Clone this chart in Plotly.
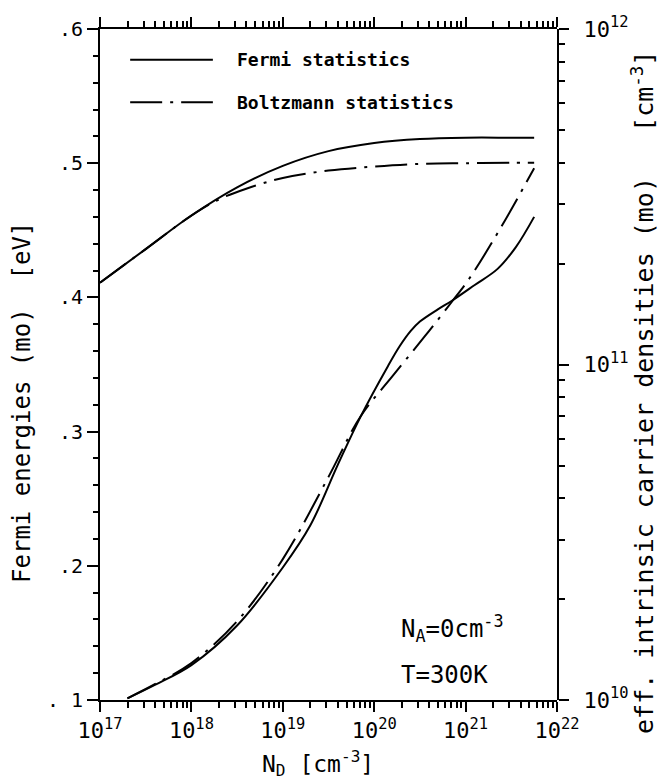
import numpy as np
import plotly.graph_objects as go

# ---------------- data ----------------
# Fermi energies (left axis, eV) vs log10(N_D)
logN_fermi_E = [17.0, 17.5, 18.0, 18.5, 19.0, 19.5, 20.0, 20.5, 21.0, 21.5, 21.75]
E_fermi = [0.411, 0.436, 0.461, 0.482, 0.498, 0.509, 0.515, 0.518, 0.519, 0.519, 0.519]

logN_boltz_E = [17.0, 17.5, 18.0, 18.3, 18.6, 19.0, 19.5, 20.0, 20.5, 21.0, 21.5, 21.75]
E_boltz = [0.411, 0.436, 0.461, 0.473, 0.481, 0.489, 0.4945, 0.4975, 0.4995, 0.5, 0.5003, 0.5004]

# effective intrinsic carrier densities (right axis, log10 cm^-3) vs log10(N_D)
logN_fermi_n = [17.3, 17.6, 18.0, 18.5, 19.0, 19.3, 19.6, 19.85, 20.15, 20.28, 20.4, 20.5, 20.7, 20.85, 21.1, 21.35, 21.55, 21.75]
log_n_fermi = [10.005, 10.045, 10.104, 10.222, 10.395, 10.52, 10.70, 10.844, 10.995, 11.055, 11.10, 11.128, 11.165, 11.19, 11.237, 11.285, 11.35, 11.44]

logN_boltz_n = [17.3, 17.6, 18.0, 18.5, 19.0, 19.5, 19.85, 20.2, 20.55, 20.85, 21.05, 21.4, 21.75]
log_n_boltz = [10.005, 10.047, 10.11, 10.235, 10.42, 10.665, 10.845, 10.965, 11.083, 11.187, 11.26, 11.415, 11.585]

x_tick_exps = [17, 18, 19, 20, 21, 22]
yl_tickvals = [0.1, 0.2, 0.3, 0.4, 0.5, 0.6]
yl_ticktext = [". 1", ".2", ".3", ".4", ".5", ".6"]
yr_tick_exps = [10, 11, 12]

legend_labels = ["Fermi statistics", "Boltzmann statistics"]

# ---------------- figure ----------------
MONO = "DejaVu Sans Mono"
BLACK = "black"
DASHDOT = "32px,8px,3px,8px"

def pw(a):
    return [10.0 ** v for v in a]

fig = go.Figure()
fig.add_trace(go.Scatter(x=pw(logN_fermi_E), y=E_fermi, mode="lines", line=dict(color=BLACK, width=2, shape="spline"), showlegend=False))
fig.add_trace(go.Scatter(x=pw(logN_boltz_E), y=E_boltz, mode="lines", line=dict(color=BLACK, width=2, shape="spline", dash=DASHDOT), showlegend=False))
# density curves live in a second subplot with the same domain (not an overlay)
fig.add_trace(go.Scatter(x=pw(logN_fermi_n), y=pw(log_n_fermi), xaxis="x2", yaxis="y2", mode="lines", line=dict(color=BLACK, width=2, shape="spline"), showlegend=False))
fig.add_trace(go.Scatter(x=pw(logN_boltz_n), y=pw(log_n_boltz), xaxis="x2", yaxis="y2", mode="lines", line=dict(color=BLACK, width=2, shape="spline", dash=DASHDOT), showlegend=False))

x_major = [10.0 ** e for e in x_tick_exps]
x_minor = [m * 10.0 ** e for e in x_tick_exps[:-1] for m in range(2, 10)]
yr_major = [10.0 ** e for e in yr_tick_exps]
yr_minor = [m * 10.0 ** e for e in yr_tick_exps[:-1] for m in range(2, 10)]
yl_minor = [round(0.1 + 0.02 * k, 2) for k in range(26) if k % 5 != 0]

fig.update_layout(
    template="none",
    width=665, height=780,
    margin=dict(l=100, r=108, t=29, b=80),
    paper_bgcolor="white", plot_bgcolor="rgba(0,0,0,0)",
    font=dict(family=MONO, color=BLACK),
    xaxis=dict(
        type="log", range=[17, 22], domain=[0, 1], anchor="y",
        tickmode="array", tickvals=x_major,
        ticktext=["10<sup>%d</sup>" % e for e in x_tick_exps],
        ticks="outside", ticklen=10, tickwidth=2, tickcolor=BLACK,
        minor=dict(tickmode="array", tickvals=x_minor, ticks="outside", ticklen=6, tickwidth=1.5, tickcolor=BLACK),
        showline=True, linecolor=BLACK, linewidth=2, mirror="ticks",
        showgrid=False, layer="below traces",
        tickfont=dict(family=MONO, size=22, color=BLACK),
    ),
    yaxis=dict(
        range=[0.1, 0.6], domain=[0, 1], anchor="x",
        tickmode="array", tickvals=yl_tickvals, ticktext=yl_ticktext,
        ticks="outside", ticklen=11, tickwidth=2, tickcolor=BLACK,
        minor=dict(tickmode="array", tickvals=yl_minor, ticks="outside", ticklen=5, tickwidth=1.5, tickcolor=BLACK),
        showline=True, linecolor=BLACK, linewidth=2,
        showgrid=False, layer="below traces",
        tickfont=dict(family=MONO, size=20, color=BLACK),
    ),
    xaxis2=dict(
        type="log", range=[17, 22], domain=[0, 1], anchor="y2", matches="x",
        visible=False, showgrid=False,
    ),
    yaxis2=dict(
        type="log", range=[10, 12], domain=[0, 1], anchor="x2", side="right",
        tickmode="array", tickvals=yr_major,
        ticktext=["10<sup>%d</sup>" % e for e in yr_tick_exps],
        ticks="outside", ticklen=10, tickwidth=2, tickcolor=BLACK,
        minor=dict(tickmode="array", tickvals=yr_minor, ticks="outside", ticklen=6, tickwidth=1.5, tickcolor=BLACK),
        showline=True, linecolor=BLACK, linewidth=2,
        showgrid=False, zeroline=False,
        tickfont=dict(family=MONO, size=22, color=BLACK),
        ticklabelstandoff=10,
    ),
    showlegend=False,
)

# legend samples (drawn inside plot, top-left)
leg_y = [0.954, 0.891]
leg_dash = ["solid", DASHDOT]
for yy, dd, lab in zip(leg_y, leg_dash, legend_labels):
    fig.add_shape(type="line", xref="paper", yref="paper", x0=0.066, x1=0.247, y0=yy, y1=yy,
                  line=dict(color=BLACK, width=2, dash=dd))
    fig.add_annotation(xref="paper", yref="paper", x=0.295, y=yy, text=lab, showarrow=False,
                       xanchor="left", yanchor="middle",
                       font=dict(family=MONO, size=18, color=BLACK, weight="bold"))

# in-plot annotations
fig.add_annotation(xref="paper", yref="paper", x=0.655, y=0.107, text="N<sub>A</sub>=0cm<sup>-3</sup>",
                   showarrow=False, xanchor="left", yanchor="middle", font=dict(family=MONO, size=24, color=BLACK))
fig.add_annotation(xref="paper", yref="paper", x=0.655, y=0.037, text="T=300K",
                   showarrow=False, xanchor="left", yanchor="middle", font=dict(family=MONO, size=24, color=BLACK))

# axis titles
fig.add_annotation(xref="paper", yref="paper", x=0.477, y=-0.094, text="N<sub>D</sub> [cm<sup>-3</sup>]",
                   showarrow=False, xanchor="center", yanchor="middle", font=dict(family=MONO, size=23, color=BLACK))
fig.add_annotation(xref="paper", yref="paper", x=-0.171, y=0.444, text="Fermi energies (mo)  [eV]",
                   textangle=-90, showarrow=False, xanchor="center", yanchor="middle",
                   font=dict(family=MONO, size=24, color=BLACK))
fig.add_annotation(xref="paper", yref="paper", x=1.188, y=0.459,
                   text="eff. intrinsic carrier densities (mo)   [cm<sup>-3</sup>]",
                   textangle=-90, showarrow=False, xanchor="center", yanchor="middle",
                   font=dict(family=MONO, size=25, color=BLACK))

fig.write_html("out.html")
